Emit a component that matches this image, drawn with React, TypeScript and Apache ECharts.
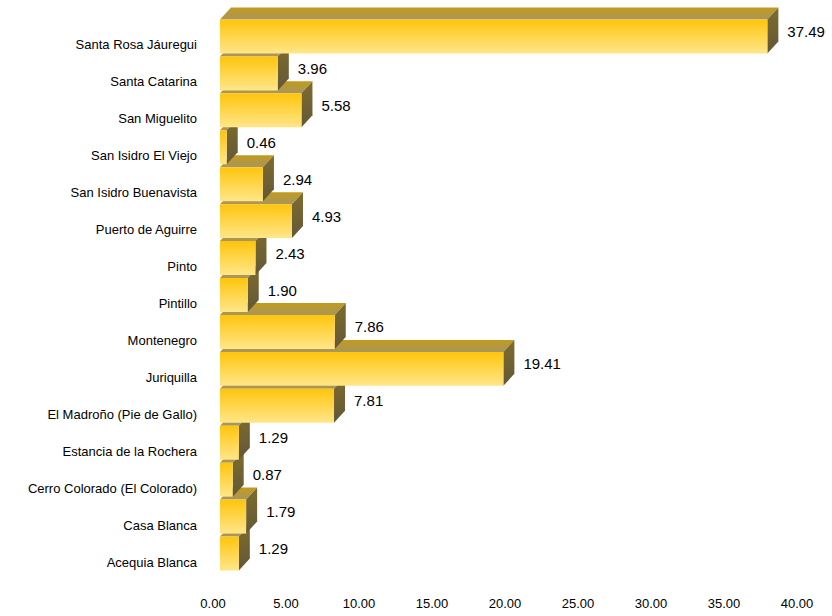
import React, { useEffect, useRef } from "react";
import * as echarts from "echarts";

// Categories listed from bottom to top
const categories: string[] = [
  "Acequia Blanca",
  "Casa Blanca",
  "Cerro Colorado (El Colorado)",
  "Estancia de la Rochera",
  "El Madroño (Pie de Gallo)",
  "Juriquilla",
  "Montenegro",
  "Pintillo",
  "Pinto",
  "Puerto de Aguirre",
  "San Isidro Buenavista",
  "San Isidro El Viejo",
  "San Miguelito",
  "Santa Catarina",
  "Santa Rosa Jáuregui",
];

const values: number[] = [
  1.29, 1.79, 0.87, 1.29, 7.81, 19.41, 7.86, 1.9, 2.43, 4.93, 2.94, 0.46, 5.58, 3.96, 37.49,
];

const xMin = 0;
const xMax = 40;
const xInterval = 5;

const FONT = "Arial, 'Liberation Sans', Helvetica, sans-serif";

export default function App() {
  const ref = useRef<HTMLDivElement>(null);

  useEffect(() => {
    document.body.style.margin = "0";
    if (!ref.current) return;
    const chart = echarts.init(ref.current, undefined, { renderer: "svg" });

    const DX = 11;
    const DY = 12;

    const frontGrad = new echarts.graphic.LinearGradient(0, 0, 0, 1, [
      { offset: 0, color: "#FFC50C" },
      { offset: 1, color: "#FFE68A" },
    ]);
    const topGrad = new echarts.graphic.LinearGradient(0, 0, 0, 1, [
      { offset: 0, color: "#C29B1C" },
      { offset: 1, color: "#A8965C" },
    ]);
    const sideGrad = new echarts.graphic.LinearGradient(0, 0, 0, 1, [
      { offset: 0, color: "#7E6C2C" },
      { offset: 1, color: "#625839" },
    ]);

    chart.setOption({
      animation: false,
      grid: { left: 220, top: 18, width: 584, height: 554, containLabel: false },
      xAxis: {
        type: "value",
        min: xMin,
        max: xMax,
        interval: xInterval,
        axisLine: { show: false },
        axisTick: { show: false },
        splitLine: { show: false },
        axisLabel: {
          formatter: (v: number) => v.toFixed(2),
          fontFamily: FONT,
          fontSize: 13,
          color: "#000",
          margin: 25,
          padding: [0, 14, 0, 0],
        },
      },
      yAxis: {
        type: "category",
        data: categories,
        axisLine: { show: false },
        axisTick: { show: false },
        splitLine: { show: false },
        axisLabel: {
          fontFamily: FONT,
          fontSize: 13,
          color: "#000",
          margin: 23,
          verticalAlign: "top",
          lineHeight: 17,
        },
      },
      series: [
        {
          type: "custom",
          clip: false,
          encode: { x: 0, y: 1 },
          data: values.map((v, i) => [v, i]),
          renderItem: (params: any, api: any) => {
            const v = api.value(0);
            const idx = api.value(1);
            const start = api.coord([0, idx]);
            const end = api.coord([v, idx]);
            const band = api.size([0, 1])[1];
            const h = band * 0.92;
            const x0 = start[0];
            const x1 = end[0];
            const yc = start[1];
            const yt = yc - h / 2;
            const yb = yc + h / 2;
            return {
              type: "group",
              children: [
                {
                  type: "polygon",
                  shape: {
                    points: [
                      [x0, yt],
                      [x1, yt],
                      [x1 + DX, yt - DY],
                      [x0 + DX, yt - DY],
                    ],
                  },
                  style: { fill: topGrad },
                },
                {
                  type: "polygon",
                  shape: {
                    points: [
                      [x1, yt],
                      [x1 + DX, yt - DY],
                      [x1 + DX, yb - DY],
                      [x1, yb],
                    ],
                  },
                  style: { fill: sideGrad },
                },
                {
                  type: "rect",
                  shape: { x: x0, y: yt, width: x1 - x0, height: h },
                  style: { fill: frontGrad },
                },
                {
                  type: "text",
                  x: x1 + DX + 9,
                  y: yc - 5,
                  style: {
                    text: v.toFixed(2),
                    fill: "#000",
                    fontFamily: FONT,
                    fontSize: 15,
                    align: "left",
                    verticalAlign: "middle",
                  },
                },
              ],
            };
          },
        },
      ],
    });

    return () => {
      chart.dispose();
    };
  }, []);

  return <div ref={ref} style={{ width: 832, height: 616 }} />;
}
